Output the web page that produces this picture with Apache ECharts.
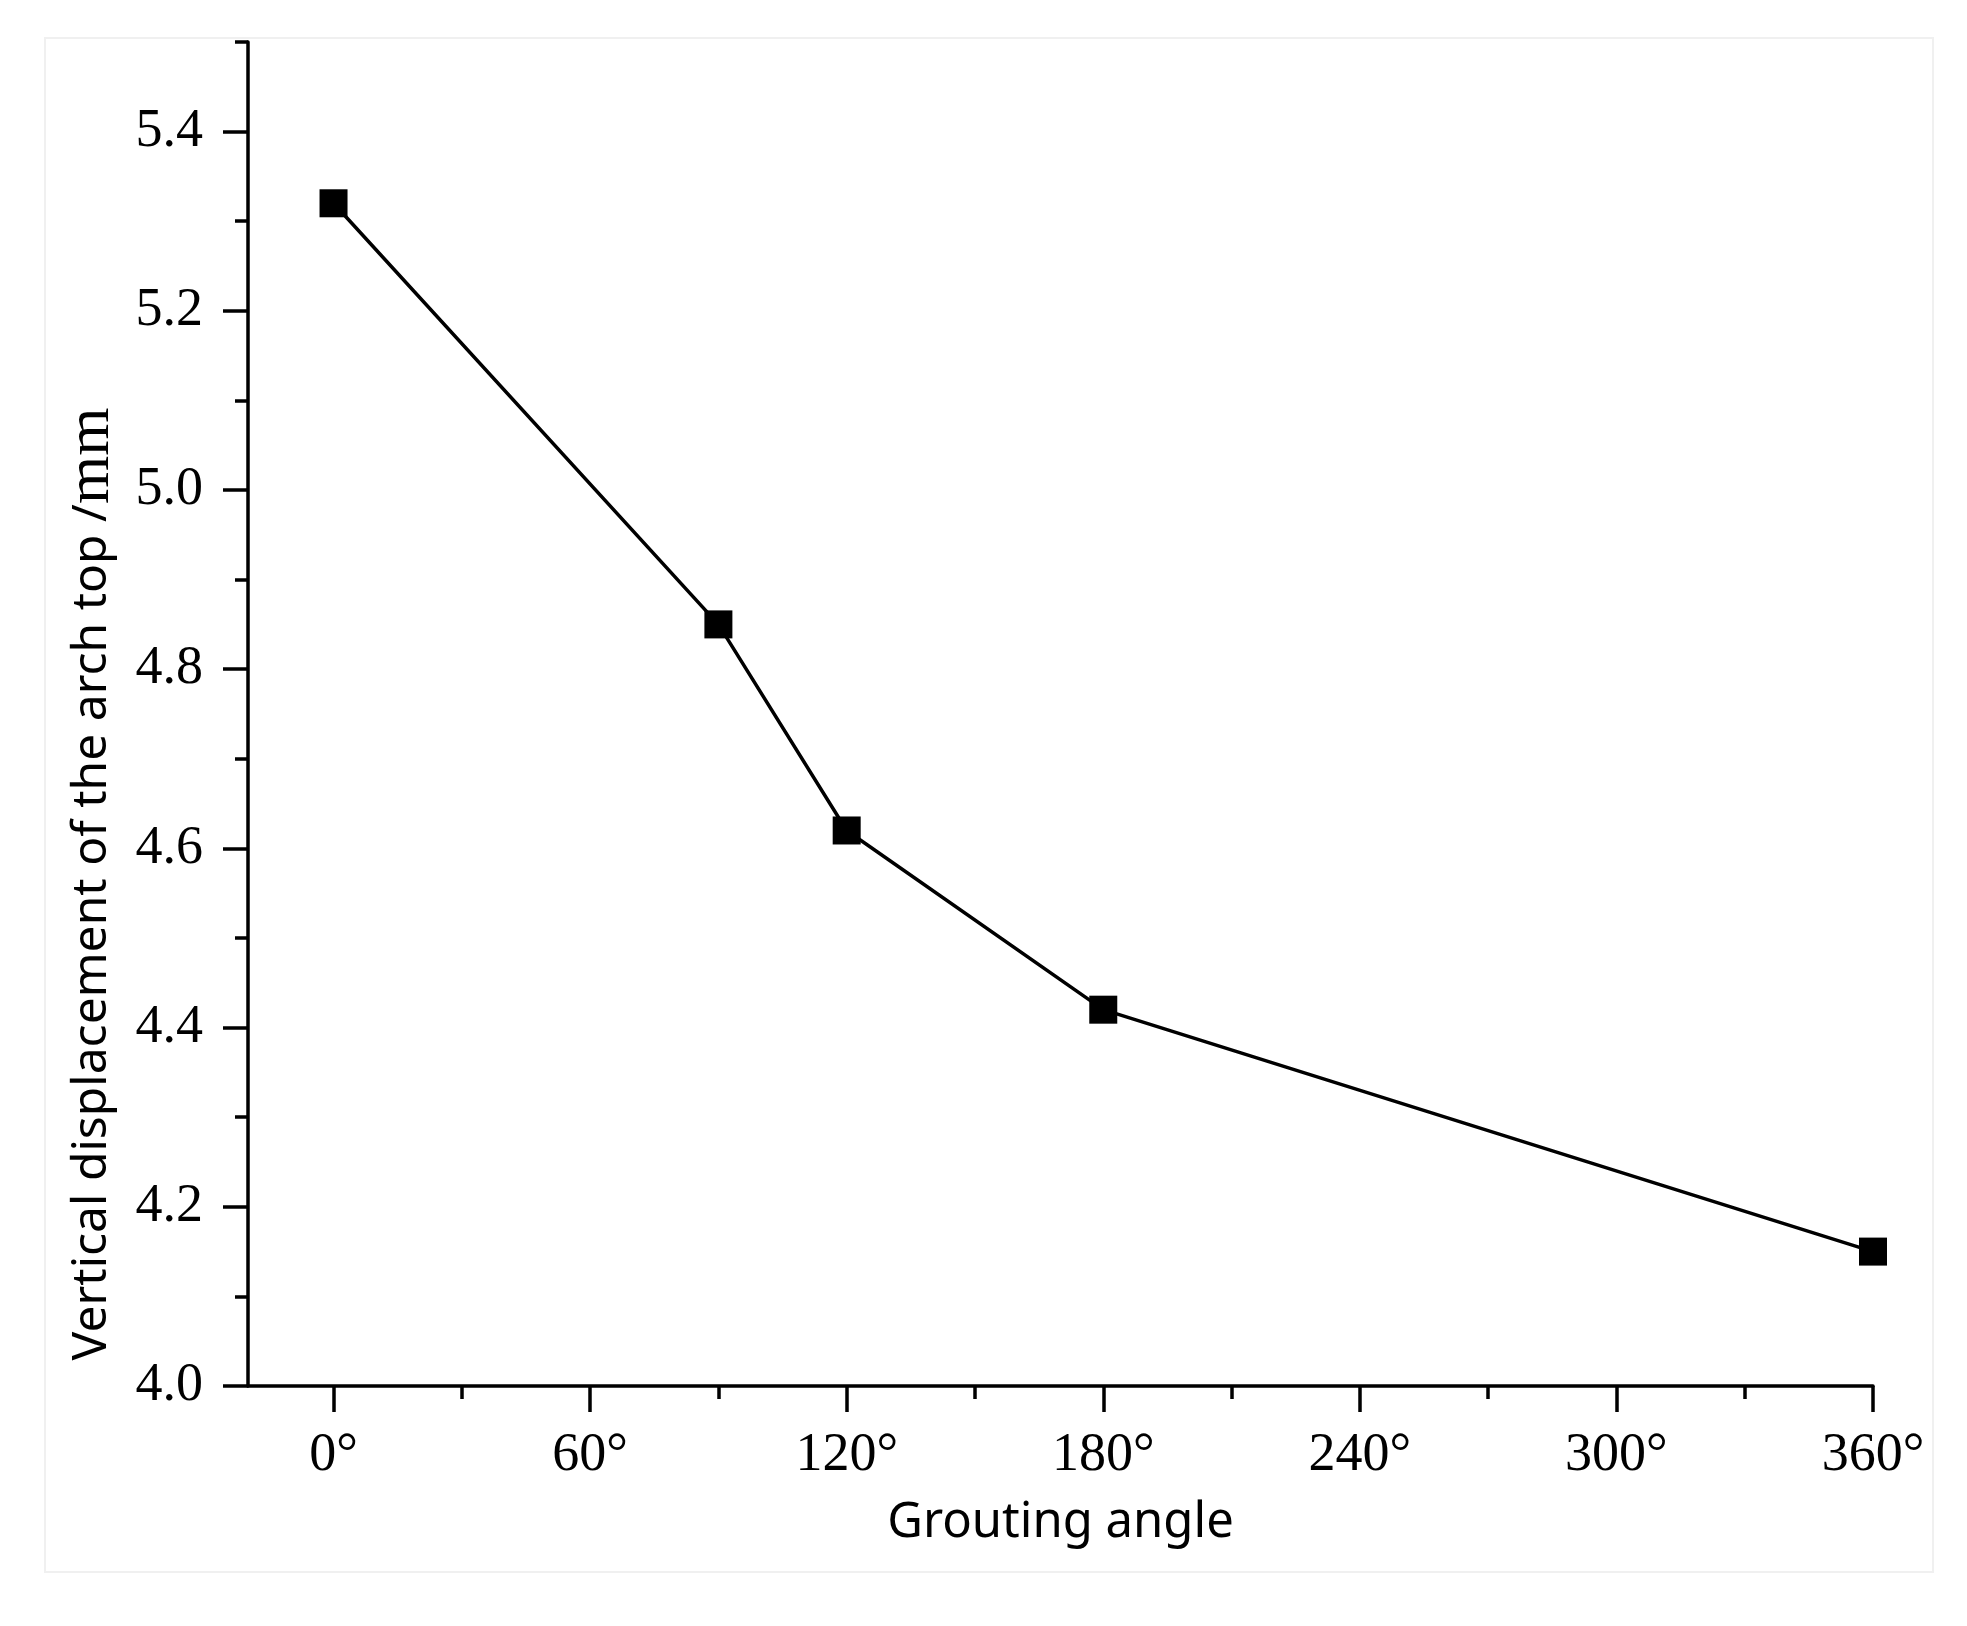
<!DOCTYPE html>
<html>
<head>
<meta charset="utf-8">
<script src="https://cdn.jsdelivr.net/npm/echarts@6/dist/echarts.min.js"></script>
<style>
html,body{margin:0;padding:0;background:#fff;}
#chart{width:1967px;height:1626px;}
</style>
</head>
<body>
<div id="chart"></div>
<script>
// Data
const angles = [0, 90, 120, 180, 360];
const displacement = [5.32, 4.85, 4.62, 4.42, 4.15];
const xMajorTicks = [0, 60, 120, 180, 240, 300, 360];
const xMinorTicks = [30, 90, 150, 210, 270, 330];
const yMajorTicks = [4.0, 4.2, 4.4, 4.6, 4.8, 5.0, 5.2, 5.4];
const yMinorTicks = [4.1, 4.3, 4.5, 4.7, 4.9, 5.1, 5.3, 5.5];
const xTitle = 'Grouting angle';
const yTitleMain = 'Vertical displacement of the arch top /';
const yTitleUnit = 'mm';

const chart = echarts.init(document.getElementById('chart'));
const serif = '"Liberation Serif", "Times New Roman", serif';
const sans = '"Noto Sans", "Open Sans", sans-serif';
const axisCommon = {type: 'value', min: -20, max: 360, position: 'bottom', splitLine: {show: false}};
const yCommon = {type: 'value', min: 4.0, max: 5.5, position: 'left', splitLine: {show: false}};

chart.setOption({
  animation: false,
  backgroundColor: '#fff',
  grid: {left: 248, right: 94, top: 42, bottom: 240, containLabel: false, outerBoundsMode: 'none'},
  xAxis: [
    Object.assign({}, axisCommon, {
      axisLine: {show: true, onZero: false, lineStyle: {color: '#000', width: 3.5}},
      axisTick: {show: true, customValues: xMajorTicks, length: 26, lineStyle: {color: '#000', width: 3.5}},
      axisLabel: {show: true, customValues: xMajorTicks, margin: 43, color: '#000', fontFamily: serif, fontSize: 54,
        formatter: v => v + '°'},
      name: xTitle, nameLocation: 'middle', nameGap: 113,
      nameTextStyle: {fontFamily: sans, fontSize: 49, color: '#000'}
    }),
    Object.assign({}, axisCommon, {
      axisLine: {show: false, onZero: false},
      axisTick: {show: true, customValues: xMinorTicks, length: 13, lineStyle: {color: '#000', width: 3.5}},
      axisLabel: {show: false}
    })
  ],
  yAxis: [
    Object.assign({}, yCommon, {
      axisLine: {show: true, onZero: false, lineStyle: {color: '#000', width: 3.5}},
      axisTick: {show: true, customValues: yMajorTicks, length: 25, lineStyle: {color: '#000', width: 3.5}},
      axisLabel: {show: true, customValues: yMajorTicks, margin: 45, color: '#000', fontFamily: serif, fontSize: 54,
        formatter: v => v.toFixed(1)}
    }),
    Object.assign({}, yCommon, {
      axisLine: {show: false, onZero: false},
      axisTick: {show: true, customValues: yMinorTicks, length: 13, lineStyle: {color: '#000', width: 3.5}},
      axisLabel: {show: false}
    })
  ],
  graphic: [
    {
      type: 'rect', silent: true, z: -1,
      shape: {x: 45, y: 38, width: 1888, height: 1534},
      style: {fill: 'none', stroke: '#f0f0f0', lineWidth: 2}
    },
    {
      type: 'text', silent: true,
      x: 92, y: 884, rotation: Math.PI / 2,
      style: {
        text: '{a|' + yTitleMain + '}{b|' + yTitleUnit + '}',
        align: 'center', verticalAlign: 'middle',
        rich: {
          a: {fontFamily: sans, fontSize: 48, fill: '#000', color: '#000'},
          b: {fontFamily: serif, fontSize: 62, fill: '#000', color: '#000'}
        }
      }
    }
  ],
  series: [{
    type: 'line',
    xAxisIndex: 0, yAxisIndex: 0,
    data: angles.map((a, i) => [a, displacement[i]]),
    symbol: 'rect', symbolSize: 28,
    lineStyle: {color: '#000', width: 3.5},
    itemStyle: {color: '#000'}
  }]
});
</script>
</body>
</html>
